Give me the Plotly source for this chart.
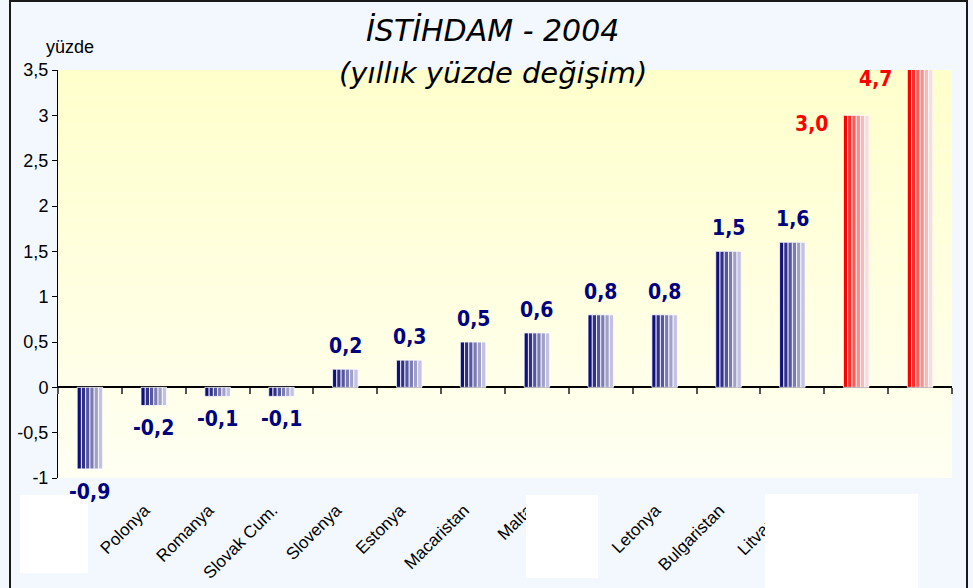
import plotly.graph_objects as go

categories = ["Çek Cum.", "Polonya", "Romanya", "Slovak Cum.", "Slovenya", "Estonya",
              "Macaristan", "Malta", "Kıbrıs", "Letonya", "Bulgaristan", "Litvanya",
              "Hırvatistan", "Türkiye"]
values = [-0.9, -0.2, -0.1, -0.1, 0.2, 0.3, 0.5, 0.6, 0.8, 0.8, 1.5, 1.6, 3.0, 4.7]
highlight = [False] * 12 + [True] * 2

ytick_vals = [-1, -0.5, 0, 0.5, 1, 1.5, 2, 2.5, 3, 3.5]
ytick_text = ["-1", "-0,5", "0", "0,5", "1", "1,5", "2", "2,5", "3", "3,5"]

title_line1 = "İSTİHDAM - 2004"
title_line2 = "(yıllık yüzde değişim)"
unit_label = "yüzde"

YMIN, YMAX = -1, 3.5

blue_stripes = ["#10107a", "#30308a", "#5555a0", "#7b7bb4", "#a0a0ca", "#c2c2e2"]
red_stripes = ["#ff0000", "#ff2a2a", "#ff5a5a", "#ff8a8a", "#ffb6b6", "#ffdada"]

fig = go.Figure()
for i in range(len(blue_stripes)):
    cols = [red_stripes[i] if h else blue_stripes[i] for h in highlight]
    fig.add_trace(go.Bar(
        x=categories, y=values,
        marker=dict(color=cols, line=dict(color="white", width=0.8)),
        showlegend=False, hoverinfo="skip",
    ))

# helper trace for the tick marks on the zero line
fig.add_trace(go.Scatter(x=categories, y=values, xaxis="x2", mode="markers",
                         marker=dict(opacity=0), showlegend=False, hoverinfo="skip"))

LABEL_FONT = "Tahoma, DejaVu Sans Condensed"
annotations = []
for c, v, h in zip(categories, values, highlight):
    txt = f"{v:.1f}".replace(".", ",")
    if h:
        annotations.append(dict(x=c, y=min(v, YMAX), xref="x", yref="y", text=txt,
                                showarrow=False, xanchor="right", yanchor="top",
                                xshift=-26, yshift=5,
                                font=dict(family=LABEL_FONT, size=21,
                                          color="#ff0000", weight="bold")))
    else:
        annotations.append(dict(x=c, y=v, xref="x", yref="y", text=txt, showarrow=False,
                                xanchor="center",
                                yanchor="bottom" if v >= 0 else "top",
                                yshift=9 if v >= 0 else -9,
                                font=dict(family=LABEL_FONT, size=21,
                                          color="#000080", weight="bold")))

L, R, T, B = 58, 21, 70, 110
W, H = 973, 588
pw, ph = W - L - R, H - T - B

def px_x(p):
    return (p - L) / pw

def px_y(p):
    return (H - B - p) / ph

annotations += [
    dict(x=px_x(492), y=px_y(31), xref="paper", yref="paper", text=title_line1,
         showarrow=False, xanchor="center", yanchor="middle",
         font=dict(family="Tahoma, DejaVu Sans", size=30, color="black", style="italic")),
    dict(x=px_x(493), y=px_y(73), xref="paper", yref="paper", text=title_line2,
         showarrow=False, xanchor="center", yanchor="middle",
         font=dict(family="Tahoma, DejaVu Sans", size=29, color="black", style="italic")),
    dict(x=px_x(70), y=px_y(47), xref="paper", yref="paper", text=unit_label,
         showarrow=False, xanchor="center", yanchor="middle",
         font=dict(family="Liberation Sans, Arial", size=18, color="black")),
]

shapes = []
# gradient background bands in plot area
nb = 30
top = (255, 255, 204)
bot = (255, 255, 242)
for k in range(nb):
    t = k / (nb - 1)
    col = tuple(round(top[j] + (bot[j] - top[j]) * t) for j in range(3))
    shapes.append(dict(type="rect", xref="x domain", yref="y domain",
                       x0=0, x1=1, y0=1 - (k + 1) / nb, y1=1 - k / nb,
                       fillcolor="rgb(%d,%d,%d)" % col, line=dict(width=0), layer="below"))
# white cover boxes
for (x0, y0, x1, y1) in [(20, 495, 88, 573), (526, 495, 598, 578), (765, 494, 918, 600)]:
    shapes.append(dict(type="rect", xref="paper", yref="paper",
                       x0=px_x(x0), x1=px_x(x1), y0=px_y(y1), y1=px_y(y0),
                       fillcolor="white", line=dict(width=0), layer="above"))
# outer frame
shapes.append(dict(type="rect", xref="paper", yref="paper",
                   x0=px_x(10), x1=px_x(967), y0=px_y(620), y1=px_y(1),
                   line=dict(color="#1a1a1a", width=2), fillcolor="rgba(0,0,0,0)",
                   layer="above"))

n = len(categories)
fig.update_layout(
    width=W, height=H,
    margin=dict(l=L, r=R, t=T, b=B),
    paper_bgcolor="#f2f8fe",
    plot_bgcolor="#fffff2",
    barmode="group", bargap=0.6, bargroupgap=0,
    separators=", ",
    annotations=annotations,
    shapes=shapes,
    xaxis=dict(range=[-0.5, n - 0.5], showgrid=False, showline=False, ticks="", tickangle=-45,
               ticklabelstandoff=18, ticklabelshift=-9, automargin=False,
               tickfont=dict(family="Liberation Sans, Arial", size=17, color="black"),
               zeroline=False),
    xaxis2=dict(overlaying="x", matches="x", anchor="free", position=(0 - YMIN) / (YMAX - YMIN),
                showticklabels=False, ticks="outside", tickson="boundaries", ticklen=6,
                tickcolor="#555555", tickwidth=1.5, showgrid=False, showline=False,
                zeroline=False, automargin=False),
    yaxis=dict(range=[YMIN, YMAX], tickvals=ytick_vals, ticktext=ytick_text,
               showgrid=False, zeroline=True, zerolinecolor="black", zerolinewidth=1.5,
               showline=True, linecolor="black", linewidth=1, ticks="outside", ticklen=5,
               tickcolor="black", automargin=False,
               tickfont=dict(family="Liberation Sans, Arial", size=18, color="black")),
)

fig.write_html("out.html", config={"displayModeBar": False},
               post_script="document.body.style.margin='0';")
